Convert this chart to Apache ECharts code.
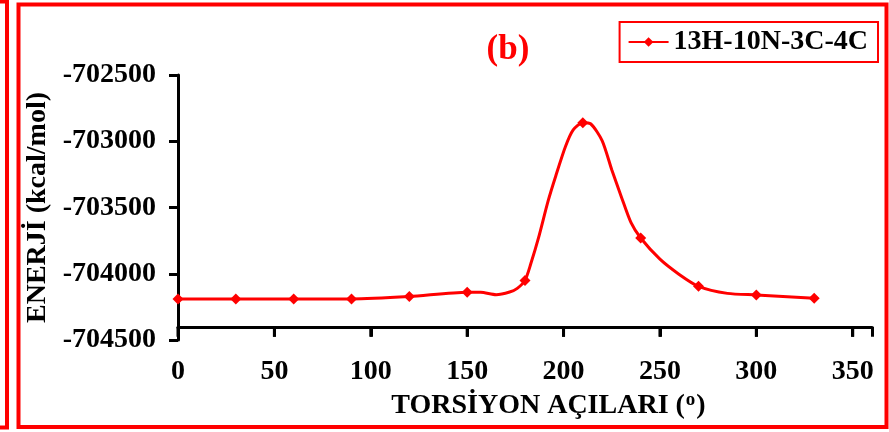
<!DOCTYPE html>
<html>
<head>
<meta charset="utf-8">
<script src="https://cdn.jsdelivr.net/npm/echarts@6/dist/echarts.min.js"></script>
<style>
  html, body { margin: 0; padding: 0; background: #fff; }
  #chart { width: 889px; height: 432px; }
</style>
</head>
<body>
<div id="chart"></div>
<script>
// torsion angle (deg) and energy (kcal/mol)
var angles = [0, 30, 60, 90, 120, 150, 157, 165, 172, 176, 180, 183, 187, 192, 196, 201, 205, 210, 214, 220, 225, 230, 235, 240, 250, 260, 270, 285, 300, 330];
var energies = [-704190, -704190, -704190, -704190, -704172, -704140, -704140, -704158, -704138, -704110, -704050, -703925, -703730, -703450, -703260, -703040, -702915, -702860, -702868, -702995, -703215, -703420, -703615, -703730, -703890, -704005, -704095, -704148, -704160, -704185];
// points that carry a marker
var markedAngles = [0, 30, 60, 90, 120, 150, 180, 210, 240, 270, 300, 330];
var xTicks = [0, 50, 100, 150, 200, 250, 300, 350];
var seriesName = "13H-10N-3C-4C";

var font = "'Liberation Serif', 'Times New Roman', serif";
var yMin = -704500, yMax = -702500, xCross = -704400;
var gridTop = 75, gridBottom = 92;
var plotH = 432 - gridTop - gridBottom;
// the x axis crosses the y axis at -704400, so it sits in its own shorter grid
var crossBottom = gridBottom + ((xCross - yMin) / (yMax - yMin)) * plotH;

var seriesData = angles.map(function (a, i) {
  return {
    value: [a, energies[i]],
    symbol: markedAngles.indexOf(a) >= 0 ? "diamond" : "none",
  };
});

var myChart = echarts.init(document.getElementById("chart"));
myChart.setOption({
  animation: false,
  backgroundColor: "#fff",
  textStyle: { fontFamily: font },
  title: {
    text: "(b)",
    left: 503,
    top: 27,
    textAlign: "center",
    textStyle: { color: "#ff0000", fontSize: 35, fontWeight: "bold", fontFamily: font },
  },
  legend: {
    right: 11,
    top: 22,
    padding: [6, 10, 6, 8],
    borderColor: "#ff0000",
    borderWidth: 2,
    itemWidth: 40,
    itemHeight: 12,
    textStyle: { color: "#000", fontSize: 28, fontWeight: "bold", fontFamily: font },
    data: [seriesName],
  },
  grid: [
    { left: 178, right: 17, top: gridTop, bottom: gridBottom },
    { left: 178, right: 17, top: gridTop, bottom: crossBottom },
  ],
  xAxis: [
    { type: "value", gridIndex: 0, min: 0, max: 360, show: false },
    {
      type: "value",
      gridIndex: 1,
      min: 0,
      max: 360,
      interval: 50,
      name: "{a|TORSİYON AÇILARI (}{s|o}{a|)}",
      nameLocation: "middle",
      nameGap: 61,
      nameTextStyle: {
        padding: [0, 0, 0, 47],
        rich: {
          a: { fontSize: 28, fontWeight: "bold", fontFamily: font, color: "#000" },
          s: { fontSize: 19, fontWeight: "bold", fontFamily: font, color: "#000", verticalAlign: "top", padding: [0, 1, 12, 1] },
        },
      },
      axisLine: { show: true, onZero: false, lineStyle: { color: "#000", width: 3 } },
      axisTick: { show: true, length: 10, lineStyle: { color: "#000", width: 3 } },
      axisLabel: {
        customValues: xTicks,
        margin: 31,
        color: "#000",
        fontSize: 28,
        fontWeight: "bold",
        fontFamily: font,
      },
      splitLine: { show: false },
    },
  ],
  yAxis: [
    {
      type: "value",
      gridIndex: 0,
      min: yMin,
      max: yMax,
      interval: 500,
      name: "ENERJİ (kcal/mol)",
      nameLocation: "middle",
      nameGap: 116,
      nameTextStyle: { color: "#000", fontSize: 28, fontWeight: "bold", fontFamily: font },
      axisLine: { show: true, onZero: false, lineStyle: { color: "#000", width: 3 } },
      axisTick: { show: true, length: 9, lineStyle: { color: "#000", width: 3 } },
      axisLabel: {
        margin: 22,
        color: "#000",
        fontSize: 28,
        fontWeight: "bold",
        fontFamily: font,
        formatter: function (v) { return String(v); },
      },
      splitLine: { show: false },
    },
    { type: "value", gridIndex: 1, min: 0, max: 1, show: false },
  ],
  series: [
    {
      name: seriesName,
      type: "line",
      xAxisIndex: 0,
      yAxisIndex: 0,
      smooth: 0.25,
      symbol: "diamond",
      symbolSize: 11,
      showAllSymbol: true,
      lineStyle: { color: "#ff0000", width: 3 },
      itemStyle: { color: "#ff0000" },
      data: seriesData,
    },
    {
      // x tick marks hanging below the crossing axis
      type: "custom",
      xAxisIndex: 1,
      yAxisIndex: 1,
      silent: true,
      clip: false,
      data: xTicks.map(function (t) { return [t, 0]; }),
      renderItem: function (params, api) {
        var p = api.coord([api.value(0), 0]);
        return {
          type: "line",
          shape: { x1: p[0], y1: p[1], x2: p[0], y2: p[1] + 10 },
          style: { stroke: "#000", lineWidth: 3 },
        };
      },
    },
  ],
  graphic: [
    // page frames
    { type: "rect", shape: { x: -20, y: 1.5, width: 27, height: 426 }, style: { fill: "none", stroke: "#ff0000", lineWidth: 4 } },
    { type: "rect", shape: { x: 18.5, y: 4.5, width: 868, height: 422.5 }, style: { fill: "none", stroke: "#ff0000", lineWidth: 4 } },
  ],
});
window.addEventListener("resize", function () {
  myChart.resize();
});
</script>
</body>
</html>
